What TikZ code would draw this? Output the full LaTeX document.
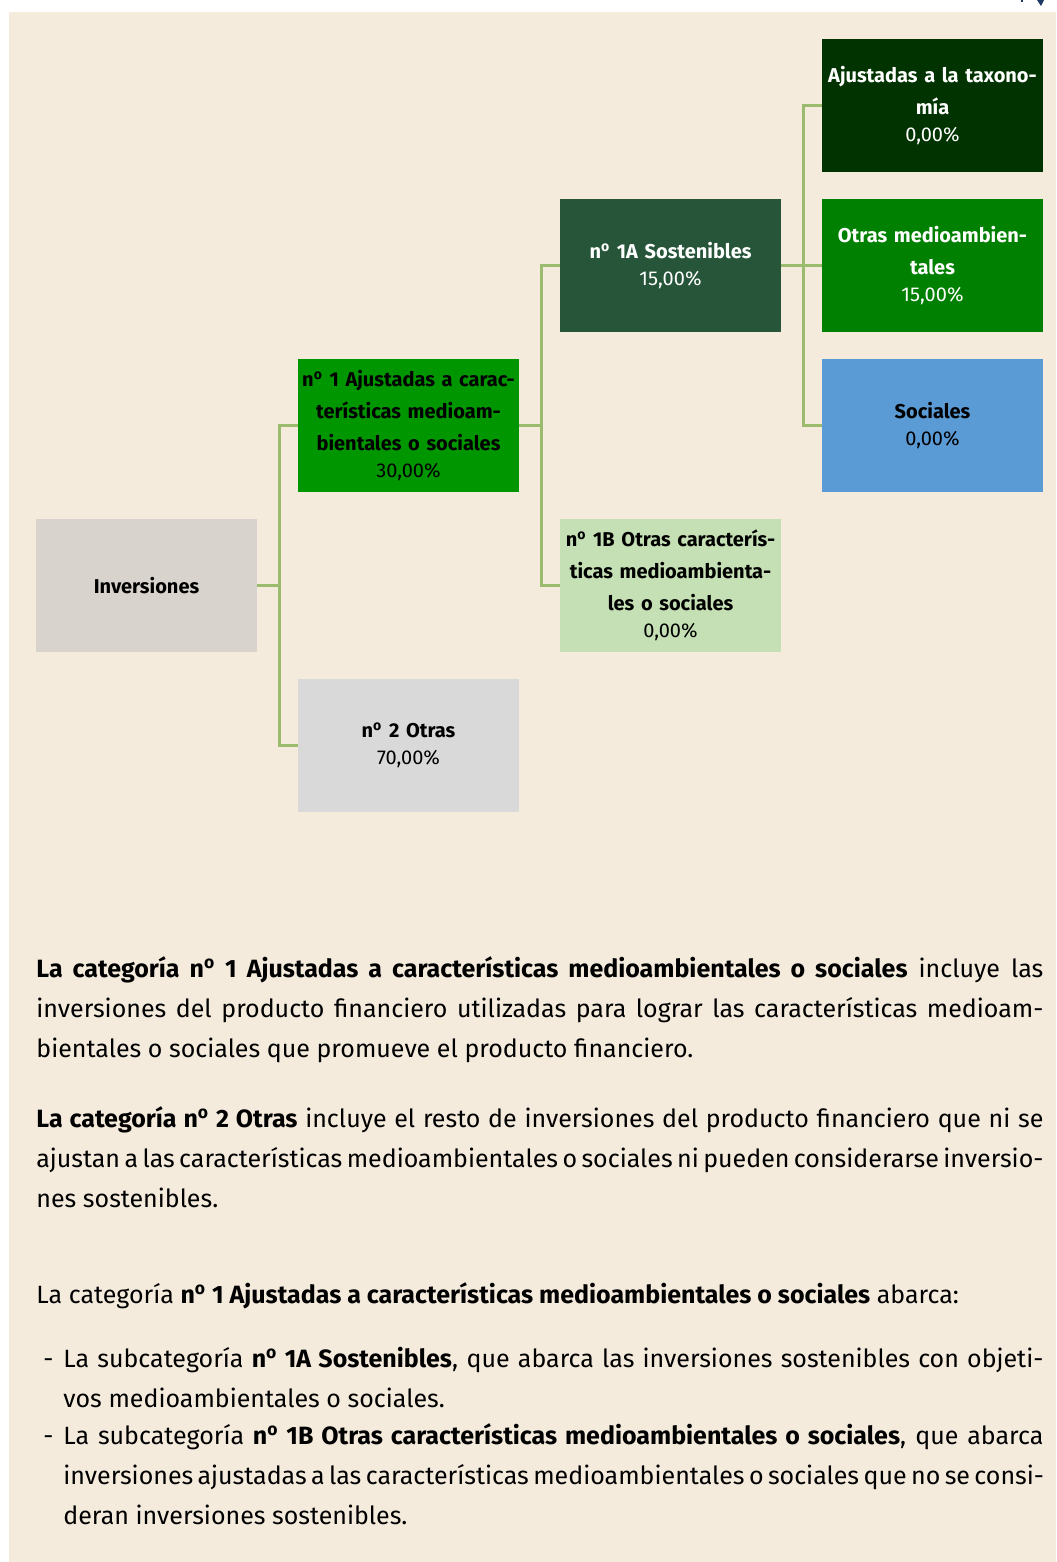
\documentclass[tikz,border=0pt]{standalone}
\usepackage{fontspec}
\setmainfont{Fira Sans}
\definecolor{panel}{HTML}{F4EBDD}
\definecolor{linkgreen}{HTML}{9BBB6F}
\definecolor{invgrey}{HTML}{D8D3CC}
\definecolor{othergrey}{HTML}{D9D9D9}
\definecolor{catgreen}{HTML}{009600}
\definecolor{sostgreen}{HTML}{265539}
\definecolor{palegreen}{HTML}{C5E0B4}
\definecolor{taxogreen}{HTML}{003300}
\definecolor{envgreen}{HTML}{008000}
\definecolor{socblue}{HTML}{5B9BD5}
\definecolor{marknavy}{HTML}{1F3864}
\newcommand{\numo}{n\textsuperscript{o}}
\newcommand{\fullline}[1]{\makebox[503.5pt][s]{#1}}
\newcommand{\itemline}[1]{\makebox[490pt][s]{#1}}
\begin{document}
\begin{tikzpicture}[x=0.5pt, y=-0.5pt,
  box/.style={minimum width=110.5pt, minimum height=66.5pt, inner sep=0pt,
    align=center, text width=108pt, font=\fontsize{10}{16}\selectfont\bfseries},
  link/.style={draw=linkgreen, line width=1.5pt},
  body/.style={anchor=base west, inner sep=0pt, font=\fontsize{12.5}{20}\selectfont}]
  \useasboundingbox (0,0) rectangle (1056,1562);
  \fill[panel] (9,12) rectangle (1056,1562);
  \fill[marknavy] (1037,0) -- (1044,0) -- (1041,6) -- cycle;
  \fill[marknavy] (1021,0) rectangle (1023,2);
  % tree
  \node[box, fill=invgrey] (inv) at (146.5,585.5) {Inversiones};
  \node[box, fill=catgreen] (cat1) at (408.5,425.5)
    {\numo\ 1 Ajustadas a carac-\\terísticas medioam-\\bientales o sociales\\[-2.5pt]{\mdseries 30,00\%}};
  \node[box, fill=othergrey] (cat2) at (408.5,745.5)
    {\numo\ 2 Otras\\[-2.5pt]{\mdseries 70,00\%}};
  \node[box, fill=sostgreen, text=white] (sub1a) at (670.5,265.5)
    {\numo\ 1A Sostenibles\\[-2.5pt]{\mdseries 15,00\%}};
  \node[box, fill=palegreen] (sub1b) at (670.5,585.5)
    {\numo\ 1B Otras caracterís-\\ticas medioambienta-\\les o sociales\\[-2.5pt]{\mdseries 0,00\%}};
  \node[box, fill=taxogreen, text=white] (taxo) at (932.5,105.5)
    {Ajustadas a la taxono-\\mía\\[-2.5pt]{\mdseries 0,00\%}};
  \node[box, fill=envgreen, text=white] (otrasma) at (932.5,265.5)
    {Otras medioambien-\\tales\\[-2.5pt]{\mdseries 15,00\%}};
  \node[box, fill=socblue] (soc) at (932.5,425.5)
    {Sociales\\[-2.5pt]{\mdseries 0,00\%}};
  \foreach \kid in {cat1, cat2}
    \draw[link] (inv.east) -- ++(22,0) |- (\kid.west);
  \foreach \kid in {sub1a, sub1b}
    \draw[link] (cat1.east) -- ++(22,0) |- (\kid.west);
  \foreach \kid in {taxo, otrasma, soc}
    \draw[link] (sub1a.east) -- ++(22,0) |- (\kid.west);
  % text below
  \node[body] (p1a) at (36,977) {\fullline{\textbf{La categoría \numo\ 1 Ajustadas a características medioambientales o sociales} incluye las}};
  \node[body] (p1b) at (36,1017) {\fullline{inversiones del producto financiero utilizadas para lograr las características medioam-}};
  \node[body] (p1c) at (36,1057) {bientales o sociales que promueve el producto financiero.};
  \node[body] (p2a) at (36,1127) {\fullline{\textbf{La categoría \numo\ 2 Otras} incluye el resto de inversiones del producto financiero que ni se}};
  \node[body] (p2b) at (36,1167) {\fullline{ajustan a las características medioambientales o sociales ni pueden considerarse inversio-}};
  \node[body] (p2c) at (36,1207) {nes sostenibles.};
  \node[body] (p3) at (36,1303) {La categoría \textbf{\numo\ 1 Ajustadas a características medioambientales o sociales} abarca:};
  \node[body] (dash1) at (43,1367) {-};
  \node[body] (l1a) at (63,1367) {\itemline{La subcategoría \textbf{\numo\ 1A Sostenibles}, que abarca las inversiones sostenibles con objeti-}};
  \node[body] (l1b) at (63,1407) {vos medioambientales o sociales.};
  \node[body] (dash2) at (43,1444) {-};
  \node[body] (l2a) at (63,1444) {\itemline{La subcategoría \textbf{\numo\ 1B Otras características medioambientales o sociales}, que abarca}};
  \node[body] (l2b) at (63,1484) {\itemline{inversiones ajustadas a las características medioambientales o sociales que no se consi-}};
  \node[body] (l2c) at (63,1524) {deran inversiones sostenibles.};
\end{tikzpicture}
\end{document}
